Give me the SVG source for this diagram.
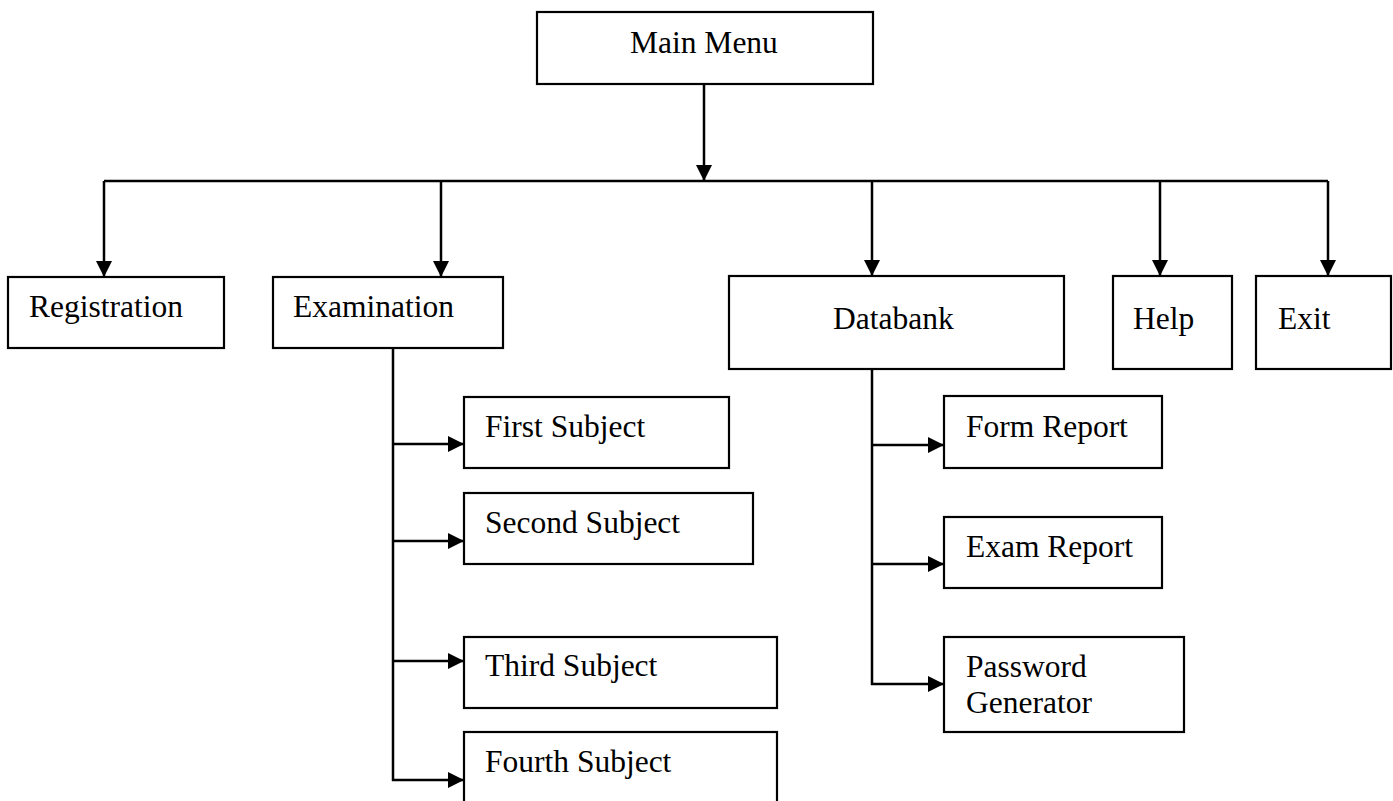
<svg xmlns="http://www.w3.org/2000/svg" width="1393" height="801" viewBox="0 0 1393 801">
  <style>
    .box { fill: #fff; stroke: #000; stroke-width: 2.2; }
    .lbl { font-family: "Liberation Serif", "Times New Roman", serif; font-size: 31.5px; fill: #000; }
    .ln { fill: none; stroke: #000; stroke-width: 2.5; }
    .arr { fill: none; stroke: #000; stroke-width: 2.5; marker-end: url(#head); }
  </style>
  <defs>
    <marker id="head" markerUnits="userSpaceOnUse" markerWidth="16" markerHeight="16" viewBox="0 0 16 16" refX="16" refY="8" orient="auto">
      <path d="M0,0 L16,8 L0,16 Z" fill="#000"/>
    </marker>
  </defs>

  <rect width="1393" height="801" fill="#fff"/>

  <!-- connectors -->
  <g id="connectors">
    <line class="arr" x1="704" y1="84" x2="704" y2="181"/>
    <line class="ln" x1="104" y1="181" x2="1328" y2="181"/>
    <line class="arr" x1="104" y1="181" x2="104" y2="277"/>
    <line class="arr" x1="441" y1="181" x2="441" y2="277"/>
    <line class="arr" x1="872" y1="181" x2="872" y2="276"/>
    <line class="arr" x1="1160" y1="181" x2="1160" y2="276"/>
    <line class="arr" x1="1328" y1="181" x2="1328" y2="276"/>

    <!-- Examination branch -->
    <line class="ln" x1="393" y1="348" x2="393" y2="781"/>
    <line class="arr" x1="392" y1="444" x2="464" y2="444"/>
    <line class="arr" x1="392" y1="541" x2="464" y2="541"/>
    <line class="arr" x1="392" y1="661" x2="464" y2="661"/>
    <line class="arr" x1="392" y1="780" x2="464" y2="780"/>

    <!-- Databank branch -->
    <line class="ln" x1="872" y1="369" x2="872" y2="685"/>
    <line class="arr" x1="871" y1="445" x2="944" y2="445"/>
    <line class="arr" x1="871" y1="564" x2="944" y2="564"/>
    <line class="arr" x1="871" y1="684" x2="944" y2="684"/>
  </g>

  <g id="main-menu">
    <rect class="box" x="537" y="12" width="336" height="72"/>
    <text class="lbl" x="630" y="53">Main Menu</text>
  </g>
  <g id="registration">
    <rect class="box" x="8" y="277" width="216" height="71"/>
    <text class="lbl" x="29" y="317">Registration</text>
  </g>
  <g id="examination">
    <rect class="box" x="273" y="277" width="230" height="71"/>
    <text class="lbl" x="293" y="317">Examination</text>
  </g>
  <g id="databank">
    <rect class="box" x="729" y="276" width="335" height="93"/>
    <text class="lbl" x="833" y="329">Databank</text>
  </g>
  <g id="help">
    <rect class="box" x="1113" y="276" width="119" height="93"/>
    <text class="lbl" x="1133" y="329">Help</text>
  </g>
  <g id="exit">
    <rect class="box" x="1256" y="276" width="135" height="93"/>
    <text class="lbl" x="1278" y="329">Exit</text>
  </g>

  <g id="first-subject">
    <rect class="box" x="464" y="397" width="265" height="71"/>
    <text class="lbl" x="485" y="437">First Subject</text>
  </g>
  <g id="second-subject">
    <rect class="box" x="464" y="493" width="289" height="71"/>
    <text class="lbl" x="485" y="533">Second Subject</text>
  </g>
  <g id="third-subject">
    <rect class="box" x="464" y="637" width="313" height="71"/>
    <text class="lbl" x="485" y="676">Third Subject</text>
  </g>
  <g id="fourth-subject">
    <rect class="box" x="464" y="732" width="313" height="90"/>
    <text class="lbl" x="485" y="772">Fourth Subject</text>
  </g>

  <g id="form-report">
    <rect class="box" x="944" y="396" width="218" height="72"/>
    <text class="lbl" x="966" y="437">Form Report</text>
  </g>
  <g id="exam-report">
    <rect class="box" x="944" y="517" width="218" height="71"/>
    <text class="lbl" x="966" y="557">Exam Report</text>
  </g>
  <g id="password-generator">
    <rect class="box" x="944" y="637" width="240" height="95"/>
    <text class="lbl" x="966" y="677">Password</text>
    <text class="lbl" x="966" y="713">Generator</text>
  </g>
</svg>
